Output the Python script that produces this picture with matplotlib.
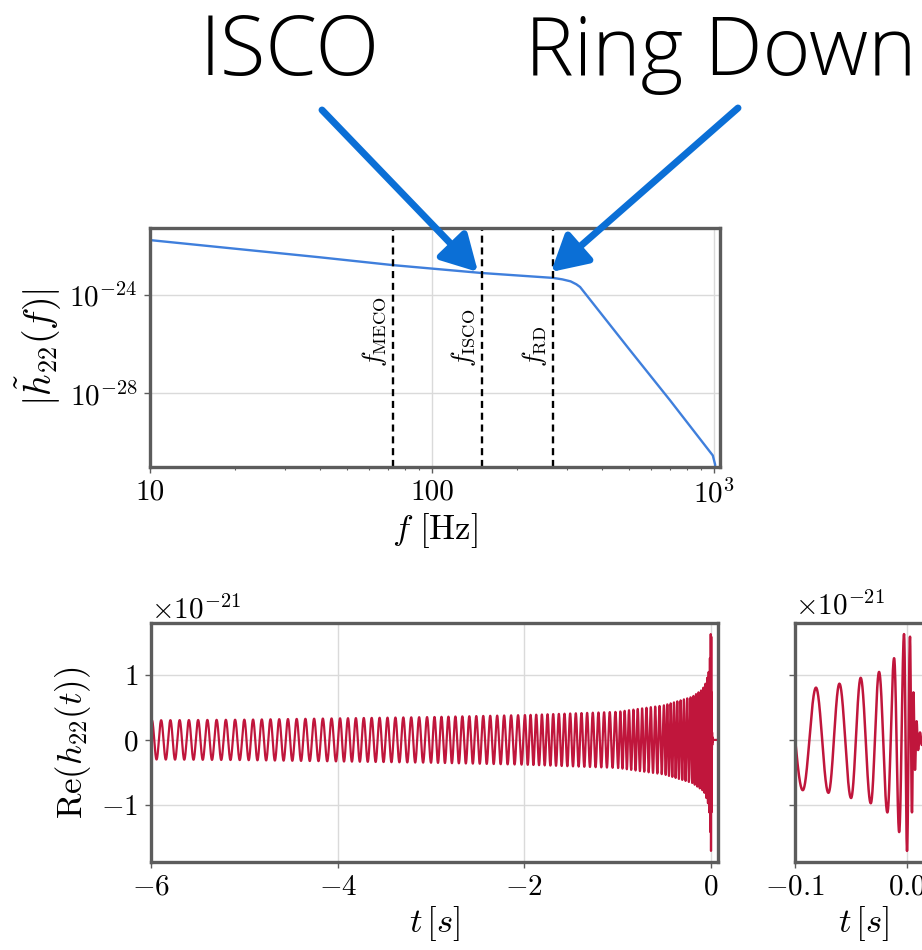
import numpy as np
import matplotlib
matplotlib.use('Agg')
import matplotlib.pyplot as plt
from matplotlib.patches import FancyArrowPatch
from matplotlib.ticker import FixedLocator, FixedFormatter, NullLocator, LogLocator, NullFormatter

plt.rcParams['font.family'] = 'serif'
plt.rcParams['font.serif'] = ['cmr10']
plt.rcParams['mathtext.fontset'] = 'cm'
plt.rcParams['axes.formatter.use_mathtext'] = True

# --- frequency domain amplitude |h22(f)|
freq = [10, 20, 40, 72.8, 150, 269, 290, 310, 325, 335, 500, 700, 990, 1009, 1010]
log_h = [-21.76, -22.11, -22.46, -22.78, -23.10, -23.30, -23.36, -23.44, -23.56,
         -23.67, -26.2, -28.3, -30.53, -30.9, -32.0]
f_lines = [72.8, 150, 269]
f_names = [r'$f_{\rm MECO}$', r'$f_{\rm ISCO}$', r'$f_{\rm RD}$']

t_cyc = [-6.0, -5.0, -4.0, -3.0, -2.0, -1.0, -0.5, -0.2,
         -0.0931, -0.0813, -0.0702, -0.0604, -0.050, -0.0414, -0.0324, -0.025,
         -0.0176, -0.0116, -0.0071, -0.0027, 0.0, 0.0027, 0.0045, 0.0058,
         0.0072, 0.0086, 0.0100, 0.015, 0.1]
cycles = [-91.1, -81.0, -70.3, -58.5, -45.1, -28.6, -17.9, -9.46,
          -5.5, -5.0, -4.5, -4.0, -3.5, -3.0, -2.5, -2.0,
          -1.5, -1.0, -0.5, 0.0, 0.5, 1.0, 1.5, 2.0,
          2.5, 3.0, 3.5, 5.0, 35.6]
t_amp = [-6.0, -5.0, -4.0, -3.0, -2.0, -1.0, -0.5, -0.2,
         -0.0931, -0.0813, -0.0702, -0.0604, -0.050, -0.0414, -0.0324, -0.025,
         -0.0176, -0.0116, -0.0071, -0.0027, 0.0, 0.0027, 0.0045, 0.0058,
         0.0072, 0.0086, 0.0100, 0.015, 0.02, 0.1]
amp = [0.30, 0.31, 0.33, 0.35, 0.38, 0.43, 0.53, 0.66,
       0.77, 0.80, 0.81, 0.86, 0.89, 0.95, 0.97, 1.04,
       1.11, 1.25, 1.41, 1.62, 1.70, 1.58, 1.10, 0.72,
       0.45, 0.28, 0.15, 0.04, 0.0, 0.0]

t = np.arange(-6.0, 0.1, 1e-4)
h_t = np.interp(t, t_amp, amp) * np.cos(2 * np.pi * np.interp(t, t_cyc, cycles)) * 1e-21

blue = '#3f7fdc'
red = '#c0163c'
spine_c = '#5c5c5c'

fig = plt.figure(figsize=(9.22, 9.5), dpi=100)
W, H = 922, 950
ax1 = fig.add_axes([150 / W, 1 - 467 / H, 570 / W, 239 / H])
ax2 = fig.add_axes([151 / W, 1 - 862 / H, 567 / W, 239 / H])
ax3 = fig.add_axes([795 / W, 1 - 862 / H, 136 / W, 239 / H])

# top panel
ax1.loglog(freq, 10.0 ** np.array(log_h), color=blue, lw=1.7)
for fl, name in zip(f_lines, f_names):
    ax1.axvline(fl, color='k', ls=(0, (3, 2)), lw=1.7)
    ax1.annotate(name, xy=(fl, 0.418), xycoords=('data', 'axes fraction'),
                 xytext=(-3, 0), textcoords='offset points', rotation=90,
                 ha='right', va='bottom', fontsize=19)
ax1.set_xlim(10, 1050)
ax1.set_ylim(1e-31, 5.4e-22)
ax1.xaxis.set_major_locator(FixedLocator([10, 100, 1000]))
ax1.xaxis.set_major_formatter(FixedFormatter(['10', '100', r'$10^3$']))
ax1.xaxis.set_minor_locator(LogLocator(base=10, subs=np.arange(2, 10)))
ax1.xaxis.set_minor_formatter(NullFormatter())
ax1.yaxis.set_major_locator(FixedLocator([1e-28, 1e-24]))
ax1.yaxis.set_minor_locator(NullLocator())
ax1.set_xlabel(r'$f\ [\mathrm{Hz}]$', fontsize=25, labelpad=2)
ax1.set_ylabel(r'$|\tilde{h}_{22}(f)|$', fontsize=27, labelpad=4)

# bottom left: full inspiral
ax2.plot(t, h_t, color=red, lw=1.6)
ax2.set_xlim(-6.0, 0.075)
ax2.set_ylim(-1.87e-21, 1.79e-21)
ax2.set_xticks([-6, -4, -2, 0])
ax2.set_yticks([-1e-21, 0, 1e-21])
ax2.yaxis.get_offset_text().set_fontsize(21)
ax2.set_xlabel(r'$t\,[s]$', fontsize=25, labelpad=2)
ax2.set_ylabel(r'$\mathrm{Re}(h_{22}(t))$', fontsize=25, labelpad=6)

# bottom right: zoom on merger
ax3.plot(t, h_t, color=red, lw=1.8)
ax3.set_xlim(-0.1, 0.0214)
ax3.set_ylim(-1.87e-21, 1.79e-21)
ax3.set_xticks([-0.1, 0.0])
ax3.set_yticks([-1e-21, 0, 1e-21])
ax3.tick_params(labelleft=False)
ax3.text(0.0, 1.01, r'$\times10^{-21}$', transform=ax3.transAxes, fontsize=21,
         ha='left', va='bottom')
ax3.set_xlabel(r'$t\,[s]$', fontsize=25, labelpad=2)

for ax in (ax1, ax2, ax3):
    ax.grid(True, which='major', color='#dadada', lw=1.0)
    for sp in ax.spines.values():
        sp.set_color(spine_c)
        sp.set_linewidth(2.4)
    ax.tick_params(which='major', direction='out', length=4, width=1, color=spine_c,
                   labelsize=21, pad=5)
    ax.tick_params(which='minor', direction='out', length=2.5, width=0.8, color=spine_c)

# hand-written annotations with arrows
fig.text(290 / W, 1 - 75 / H, 'ISCO', ha='center', va='baseline', fontsize=60,
         family=['Open Sans', 'DejaVu Sans'], weight='light')
fig.text(525 / W, 1 - 75 / H, 'Ring Down', ha='left', va='baseline', fontsize=59,
         family=['Open Sans', 'DejaVu Sans'], weight='light')
arrow_c = '#0b6fd6'
for tail, tip in [((322, 110), (478, 272)), ((738, 108), (551, 272))]:
    arr = FancyArrowPatch((tail[0] / W, 1 - tail[1] / H), (tip[0] / W, 1 - tip[1] / H),
                          transform=fig.transFigure, arrowstyle='-|>,head_length=0.9,head_width=0.5',
                          mutation_scale=24, lw=5, color=arrow_c, shrinkA=0, shrinkB=0)
    fig.patches.append(arr)

plt.savefig('out.png', dpi=100)
